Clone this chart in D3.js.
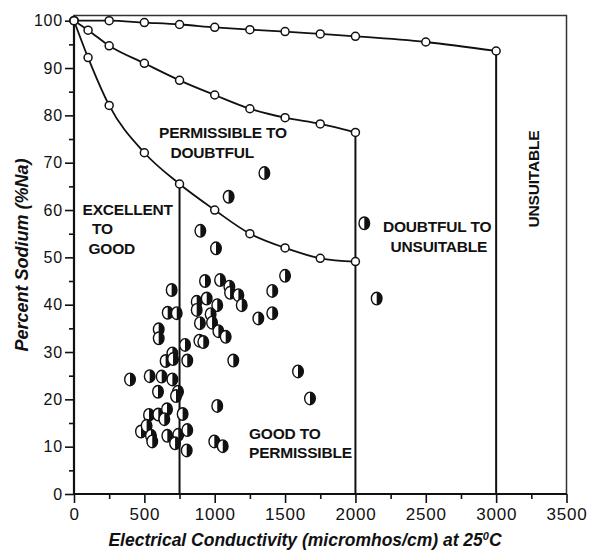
<!DOCTYPE html>
<html>
<head>
<meta charset="utf-8">
<script src="https://cdn.jsdelivr.net/npm/d3@7"></script>
<style>
	body { margin:0; background:#fff; }
	svg text { font-family:"Liberation Sans", Arial, sans-serif; fill:#111; }
</style>
</head>
<body>
<svg id="chart" width="599" height="555"></svg>
<script>
// boundary curves (EC, %Na)
var topEC = [0,250,500,750,1000,1250,1500,1750,2000,2500,3000];
var topNa = [100,100,99.6,99.2,98.6,98.1,97.7,97.2,96.7,95.5,93.6];
var midEC = [0,100,250,500,750,1000,1250,1500,1750,2000];
var midNa = [100,98.0,94.7,91.0,87.4,84.3,81.4,79.5,78.2,76.4];
var lowEC = [0,100,250,500,750,1000,1250,1500,1750,2000];
var lowNa = [100,92.2,82.1,72.1,65.5,60.0,55.0,52.0,49.8,49.1];

// vertical class limits
var limitEC = [750,2000,3000];
var limitNa = [65.5,76.4,93.6];

// water samples
var sampleEC = [398,538,623,699,694,602,602,666,730,699,651,704,789,805,597,739,725,
	533,599,661,642,772,476,516,547,556,663,741,718,805,801,931,1038,1104,1109,1168,
	1192,872,872,943,1018,971,895,981,1026,1078,891,919,1132,1310,1409,1409,1500,1018,
	997,1057,1592,1677,2151,2063,1353,1099,898,1009];
var sampleNa = [24.2,24.9,24.8,24.2,43.1,34.8,32.9,38.3,38.2,29.7,28.1,28.5,31.5,28.2,21.6,21.6,20.7,
	16.7,16.8,17.9,15.8,16.9,13.2,14.4,12.3,11.1,12.3,12.5,10.7,13.5,9.2,45.0,45.2,43.8,42.5,42.0,
	39.9,40.6,38.9,41.3,39.9,38.0,36.1,36.2,34.4,33.2,32.4,32.1,28.2,37.1,38.2,42.9,46.1,18.6,
	11.1,10.1,25.9,20.2,41.3,57.2,67.8,62.8,55.6,51.9];

var xTicks = [0,500,1000,1500,2000,2500,3000,3500];
var yTicks = [0,10,20,30,40,50,60,70,80,90,100];
var xMinor = [250,750,1250,1750,2250,2750,3250];
var yMinor = [5,15,25,35,45,55,65,75,85,95];

var svg = d3.select("#chart");
var x = d3.scaleLinear().domain([0,3500]).range([74,566.5]);
var y = d3.scaleLinear().domain([0,100]).range([494,20.7]);
var yTop = 101.1;

// frame
svg.append("rect")
	.attr("x",x(0)).attr("y",y(yTop))
	.attr("width",x(3500)-x(0)).attr("height",y(0)-y(yTop))
	.attr("fill","none").attr("stroke","#333").attr("stroke-width",1.5);

function drawAxis(g, axis) {
	g.call(axis);
	g.select(".domain").remove();
	g.selectAll("line").attr("stroke","#111").attr("stroke-width",1.6);
}

var gx = svg.append("g").attr("transform","translate(0,"+y(0)+")");
drawAxis(gx, d3.axisBottom(x).tickValues(xTicks).tickSize(9).tickPadding(5).tickFormat(d3.format("d")));
gx.selectAll("text").attr("font-size",17).attr("letter-spacing",0.8).attr("fill","#111");
drawAxis(svg.append("g").attr("transform","translate(0,"+y(0)+")"),
	d3.axisBottom(x).tickValues(xMinor).tickSize(5).tickFormat(""));

var gy = svg.append("g").attr("transform","translate("+x(0)+",0)");
drawAxis(gy, d3.axisLeft(y).tickValues(yTicks).tickSize(9).tickPadding(2));
gy.selectAll("text").attr("font-size",16).attr("letter-spacing",0.8).attr("fill","#111");
drawAxis(svg.append("g").attr("transform","translate("+x(0)+",0)"),
	d3.axisLeft(y).tickValues(yMinor).tickSize(5).tickFormat(""));

// axis lines
svg.append("line").attr("x1",x(0)).attr("x2",x(3500)).attr("y1",y(0)).attr("y2",y(0))
	.attr("stroke","#111").attr("stroke-width",2.2);
svg.append("line").attr("x1",x(0)).attr("x2",x(0)).attr("y1",y(0)).attr("y2",y(yTop))
	.attr("stroke","#111").attr("stroke-width",2.2);

// vertical limits
svg.selectAll("line.limit").data(limitEC).enter().append("line")
	.attr("class","limit")
	.attr("x1",function(d){ return x(d); }).attr("x2",function(d){ return x(d); })
	.attr("y1",function(d,i){ return y(limitNa[i]); }).attr("y2",y(0))
	.attr("stroke","#111").attr("stroke-width",2);

// boundary curves
var line = d3.line()
	.x(function(d){ return x(d[0]); })
	.y(function(d){ return y(d[1]); })
	.curve(d3.curveMonotoneX);
var curves = [d3.zip(topEC,topNa), d3.zip(midEC,midNa), d3.zip(lowEC,lowNa)];
curves.forEach(function(pts) {
	svg.append("path").attr("d",line(pts))
		.attr("fill","none").attr("stroke","#111").attr("stroke-width",1.8);
	svg.selectAll(null).data(pts).enter().append("circle")
		.attr("cx",function(d){ return x(d[0]); })
		.attr("cy",function(d){ return y(d[1]); })
		.attr("r",4)
		.attr("fill","#fff").attr("stroke","#111").attr("stroke-width",1.5);
});

// samples: half filled markers
var rx = 5.3, ry = 6.3;
var samples = svg.selectAll("g.sample").data(d3.zip(sampleEC,sampleNa)).enter().append("g")
	.attr("class","sample")
	.attr("transform",function(d){ return "translate("+x(d[0])+","+y(d[1])+")"; });
samples.append("ellipse").attr("rx",rx).attr("ry",ry)
	.attr("fill","#fff").attr("stroke","#111").attr("stroke-width",1.4);
samples.append("path")
	.attr("d","M0,"+(-ry)+" A"+rx+","+ry+" 0 0,1 0,"+ry+" Z")
	.attr("fill","#111");

// region labels
var labels = [
	{t:"PERMISSIBLE TO", x:159, y:137.5},
	{t:"DOUBTFUL", x:170.5, y:157.5},
	{t:"EXCELLENT", x:82.5, y:214.5},
	{t:"TO", x:92, y:234},
	{t:"GOOD", x:88.5, y:254},
	{t:"DOUBTFUL TO", x:383, y:231.5},
	{t:"UNSUITABLE", x:390.5, y:252},
	{t:"GOOD TO", x:249, y:438.5},
	{t:"PERMISSIBLE", x:249, y:458}
];
svg.selectAll("text.region").data(labels).enter().append("text")
	.attr("class","region")
	.attr("x",function(d){ return d.x; }).attr("y",function(d){ return d.y; })
	.attr("font-size",15.5).attr("font-weight","bold").attr("letter-spacing",-0.2)
	.text(function(d){ return d.t; });
svg.append("text")
	.attr("transform","translate(539,179) rotate(-90)")
	.attr("text-anchor","middle")
	.attr("font-size",15.5).attr("font-weight","bold").attr("letter-spacing",-0.2)
	.text("UNSUITABLE");

// axis titles
var xt = svg.append("text")
	.attr("x",305).attr("y",545.5).attr("text-anchor","middle")
	.attr("font-size",17.5).attr("font-weight","bold").attr("font-style","italic");
xt.append("tspan").text("Electrical Conductivity (micromhos/cm) at 25");
xt.append("tspan").attr("dy",-6).attr("font-size",11).text("0");
xt.append("tspan").attr("dy",6).text("C");

svg.append("text")
	.attr("transform","translate(28,255) rotate(-90)")
	.attr("text-anchor","middle")
	.attr("font-size",18).attr("font-weight","bold").attr("font-style","italic")
	.text("Percent Sodium (%Na)");
</script>
</body>
</html>
